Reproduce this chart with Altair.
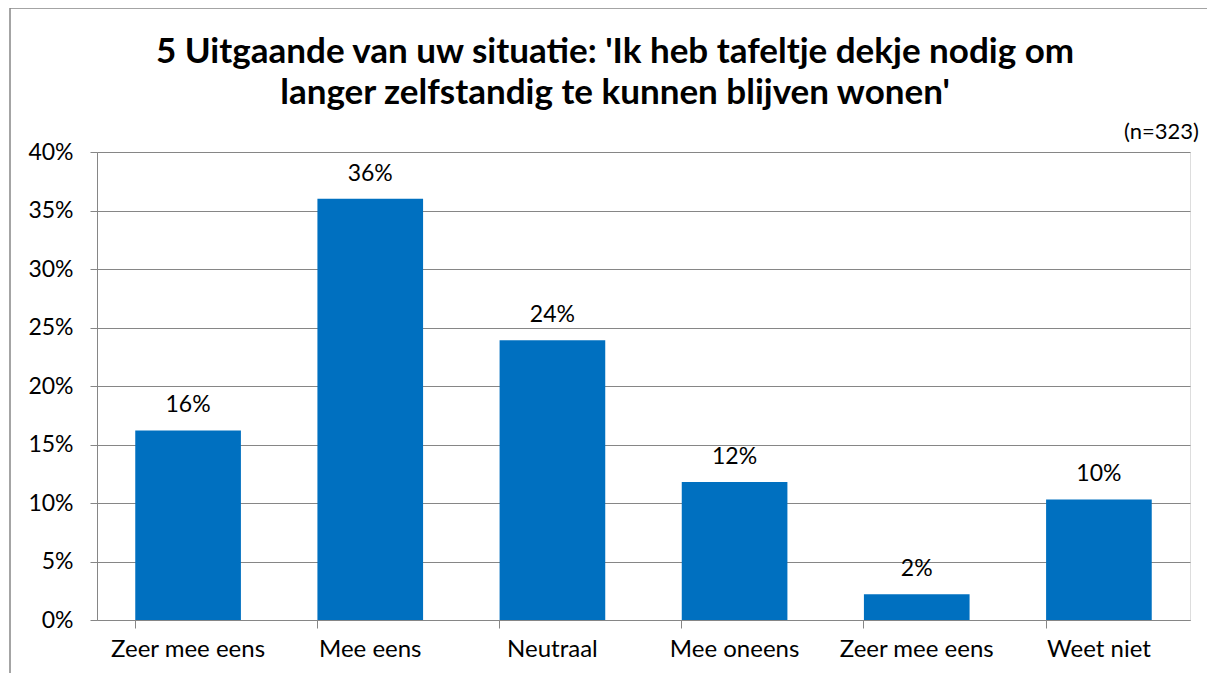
import altair as alt
import pandas as pd
import json

categories = ["Zeer mee eens", "Mee eens", "Neutraal", "Mee oneens", "Zeer mee eens", "Weet niet"]
values = [0.162, 0.360, 0.239, 0.118, 0.022, 0.103]
labels = ["16%", "36%", "24%", "12%", "2%", "10%"]
title_lines = ["5 Uitgaande van uw situatie: 'Ik heb tafeltje dekje nodig om",
               "langer zelfstandig te kunnen blijven wonen'"]
note = "(n=323)"

keys = [f"k{i}" for i in range(len(categories))]
df = pd.DataFrame({"key": keys, "cat": categories, "value": values, "label": labels})

label_map = json.dumps(dict(zip(keys, categories)))
label_expr = f"{label_map}[datum.value]"

W, H = 1093, 468
FONT = "Lato"
GRID = "#868686"

x = alt.X("key:N", sort=keys, title=None,
          scale=alt.Scale(paddingInner=0.42, paddingOuter=0.21),
          axis=alt.Axis(labelExpr=label_expr, labelAngle=0, labelFont=FONT,
                        labelFontSize=24, labelColor="black", labelPadding=9,
                        tickColor=GRID, tickSize=8, domainColor=GRID,
                        bandPosition=0, ticks=True, grid=False))
y = alt.Y("value:Q", title=None,
          scale=alt.Scale(domain=[0, 0.4], nice=False),
          axis=alt.Axis(format=".0%", values=[0, 0.05, 0.1, 0.15, 0.2, 0.25, 0.3, 0.35, 0.4],
                        labelFont=FONT, labelFontSize=23, labelColor="black",
                        labelPadding=17, tickColor=GRID, tickSize=7,
                        domainColor=GRID, gridColor=GRID, grid=True))

bars = alt.Chart(df).mark_bar(color="#0070C0").encode(x=x, y=y)
text = alt.Chart(df).mark_text(font=FONT, fontSize=23, color="black",
                               baseline="alphabetic", dy=-18).encode(
    x=alt.X("key:N", sort=keys), y="value:Q", text="label:N")

note_df = pd.DataFrame({"t": [note]})
note_mark = alt.Chart(note_df).mark_text(font=FONT, fontSize=22, color="black",
                                         align="right", baseline="alphabetic").encode(
    x=alt.value(W + 9), y=alt.value(-13), text="t:N")

title_df = pd.DataFrame({"t": title_lines, "line": [0, 1]})
title_style = dict(font=FONT, fontSize=35, fontWeight="bold", color="black",
                   align="center", baseline="alphabetic")
title1 = alt.Chart(title_df).transform_filter("datum.line == 0").mark_text(**title_style).encode(
    x=alt.value(518), y=alt.value(-89), text="t:N")
title2 = alt.Chart(title_df).transform_filter("datum.line == 1").mark_text(**title_style).encode(
    x=alt.value(518), y=alt.value(-48), text="t:N")

border = alt.Chart(note_df).mark_rect(fill=None, stroke=GRID, strokeWidth=1.5).encode(
    x=alt.value(-87), x2=alt.value(1116), y=alt.value(-144), y2=alt.value(528))

chart = alt.layer(border, bars, text, note_mark, title1, title2).properties(
    width=W, height=H,
    autosize=alt.AutoSizeParams(type="none"),
    padding={"left": 89, "top": 144, "right": 17, "bottom": 53},
).configure_view(stroke=None).configure(background="white")

chart.save("out.html", embed_options={"renderer": "svg", "actions": False})
